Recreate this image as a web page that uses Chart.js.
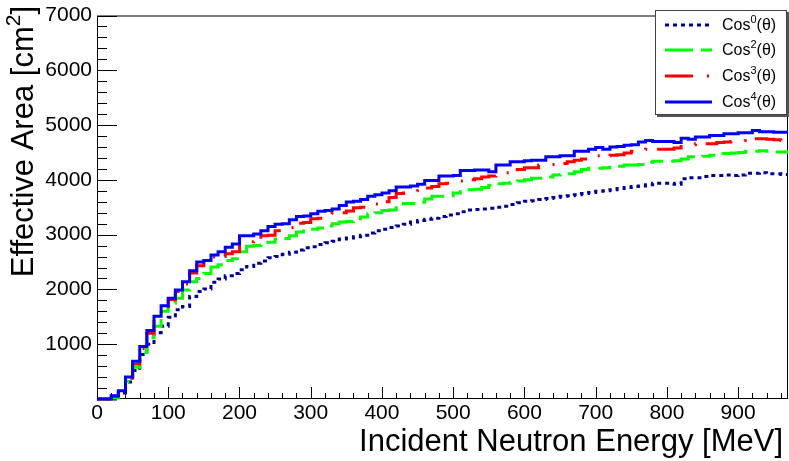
<!DOCTYPE html>
<html>
<head>
<meta charset="utf-8">
<script src="https://cdn.jsdelivr.net/npm/chart.js@4.4.1/dist/chart.umd.min.js"></script>
<style>
  html, body { margin: 0; padding: 0; background: #fff; }
  canvas { display: block; }
</style>
</head>
<body>
<canvas id="effAreaChart" width="789" height="461"></canvas>
<script>
// Effective area vs incident neutron energy, 10 MeV bins, one histogram per angular weighting

const energyEdges = [
    0, 10, 20, 30, 40, 50, 60, 70, 80, 90,
    100, 110, 120, 130, 140, 150, 160, 170, 180, 190,
    200, 210, 220, 230, 240, 250, 260, 270, 280, 290,
    300, 310, 320, 330, 340, 350, 360, 370, 380, 390,
    400, 410, 420, 430, 440, 450, 460, 470, 480, 490,
    500, 510, 520, 530, 540, 550, 560, 570, 580, 590,
    600, 610, 620, 630, 640, 650, 660, 670, 680, 690,
    700, 710, 720, 730, 740, 750, 760, 770, 780, 790,
    800, 810, 820, 830, 840, 850, 860, 870, 880, 890,
    900, 910, 920, 930, 940, 950, 960, 970
];

// bin contents [cm^2]
const cos0 = [
    0, 0, 0, 110, 310, 520, 810, 1000, 1210, 1330,
    1490, 1630, 1690, 1870, 1960, 2010, 2130, 2190, 2250, 2290,
    2360, 2420, 2480, 2520, 2580, 2600, 2640, 2680, 2720, 2760,
    2780, 2820, 2850, 2880, 2920, 2940, 2960, 2990, 3030, 3070,
    3100, 3130, 3160, 3190, 3230, 3260, 3280, 3300, 3330, 3360,
    3380, 3420, 3450, 3460, 3470, 3480, 3500, 3520, 3550, 3580,
    3610, 3620, 3640, 3660, 3680, 3700, 3710, 3730, 3750, 3770,
    3790, 3800, 3820, 3840, 3860, 3880, 3890, 3910, 3940, 3940,
    3940, 3920, 4020, 4040, 4040, 4060, 4080, 4080, 4090, 4080,
    4090, 4120, 4120, 4130, 4110, 4110, 4100
];
const cos2 = [
    0, 0, 20, 100, 320, 580, 850, 1120, 1330, 1600,
    1750, 1840, 1990, 2140, 2200, 2290, 2410, 2450, 2530, 2560,
    2690, 2790, 2800, 2810, 2860, 2920, 2930, 2980, 3050, 3100,
    3100, 3120, 3160, 3200, 3230, 3240, 3290, 3320, 3380, 3400,
    3440, 3450, 3530, 3570, 3570, 3590, 3650, 3700, 3700, 3710,
    3760, 3810, 3820, 3830, 3860, 3900, 3930, 3940, 3950, 3980,
    4000, 4030, 4030, 4050, 4090, 4100, 4110, 4150, 4190, 4210,
    4210, 4220, 4230, 4250, 4270, 4270, 4280, 4320, 4340, 4340,
    4340, 4350, 4380, 4420, 4420, 4430, 4450, 4480, 4480, 4490,
    4500, 4520, 4520, 4530, 4520, 4510, 4510
];
const cos3 = [
    0, 0, 50, 140, 380, 640, 920, 1200, 1450, 1640,
    1810, 1960, 2100, 2300, 2430, 2480, 2590, 2600, 2650, 2690,
    2860, 2870, 2910, 2980, 2990, 3070, 3100, 3130, 3210, 3220,
    3290, 3300, 3330, 3390, 3400, 3430, 3490, 3500, 3520, 3560,
    3600, 3680, 3750, 3760, 3760, 3800, 3850, 3880, 3930, 3940,
    3940, 3980, 4000, 4020, 4050, 4070, 4130, 4130, 4140, 4190,
    4220, 4220, 4270, 4280, 4280, 4300, 4330, 4360, 4380, 4420,
    4440, 4440, 4450, 4460, 4490, 4520, 4540, 4560, 4560, 4560,
    4560, 4580, 4610, 4640, 4660, 4660, 4660, 4680, 4690, 4700,
    4720, 4750, 4750, 4750, 4740, 4730, 4720
];
const cos4 = [
    0, 0, 60, 150, 400, 690, 960, 1250, 1510, 1700,
    1840, 1990, 2140, 2340, 2500, 2530, 2630, 2690, 2770, 2830,
    2980, 2980, 3010, 3070, 3150, 3190, 3200, 3270, 3330, 3340,
    3380, 3425, 3440, 3470, 3530, 3595, 3610, 3640, 3700, 3730,
    3760, 3800, 3870, 3870, 3890, 3920, 3990, 3990, 4070, 4070,
    4080, 4170, 4170, 4180, 4180, 4150, 4270, 4270, 4330, 4330,
    4350, 4360, 4360, 4420, 4420, 4440, 4440, 4520, 4520, 4560,
    4590, 4560, 4600, 4610, 4630, 4640, 4690, 4720, 4700, 4700,
    4700, 4680, 4760, 4740, 4780, 4780, 4810, 4810, 4840, 4840,
    4860, 4860, 4900, 4880, 4880, 4870, 4870
];

const seriesPowers = ['0', '2', '3', '4'];
const xTickValues = [0, 100, 200, 300, 400, 500, 600, 700, 800, 900];
const yTickValues = [1000, 2000, 3000, 4000, 5000, 6000, 7000];

const FONT = '"Liberation Sans", Arial, Helvetica, sans-serif';

const series = [
    { values: cos0, color: '#000099', dash: [4, 4], order: 4 },
    { values: cos2, color: '#00ff00', dash: [28, 8, 14, 8], order: 3 },
    { values: cos3, color: '#ff0000', dash: [28, 14, 2, 10], order: 2 },
    { values: cos4, color: '#0000ff', dash: [], order: 1 }
];

// histogram -> stepped points at the low bin edges, closed at the last edge
function toSteps(values) {
    return energyEdges.map((e, i) => ({ x: e, y: values[Math.min(i, values.length - 1)] }));
}

// draws text pieces [text, size, raise] one after another
function drawRich(ctx, x, y, pieces, align) {
    let total = 0;
    pieces.forEach(p => {
        ctx.font = `${p[1]}px ${FONT}`;
        total += ctx.measureText(p[0]).width;
    });
    let cx = align === 'right' ? x - total : x;
    pieces.forEach(p => {
        ctx.font = `${p[1]}px ${FONT}`;
        ctx.fillText(p[0], cx, y - (p[2] || 0));
        cx += ctx.measureText(p[0]).width;
    });
}

const framePlugin = {
    id: 'rootFrame',
    beforeDatasetsDraw(chart) {
        const { ctx, chartArea: a, scales: { x, y } } = chart;
        ctx.save();
        ctx.strokeStyle = '#000';
        ctx.lineWidth = 1;
        ctx.strokeRect(a.left + 0.5, a.top + 0.5, a.right - a.left - 1, a.bottom - a.top - 1);
        ctx.beginPath();
        for (let v = 0; v <= 7000; v += 200) {
            const py = Math.round(y.getPixelForValue(v)) + 0.5;
            const len = v % 1000 === 0 ? 20 : 10;
            ctx.moveTo(a.left, py);
            ctx.lineTo(a.left + len, py);
        }
        for (let v = 0; v <= 960; v += 20) {
            const px = Math.round(x.getPixelForValue(v)) + 0.5;
            const len = v % 100 === 0 ? 12 : 6;
            ctx.moveTo(px, a.bottom);
            ctx.lineTo(px, a.bottom - len);
        }
        ctx.stroke();
        ctx.restore();
    }
};

const titlePlugin = {
    id: 'axisTitles',
    afterDraw(chart) {
        const ctx = chart.ctx;
        ctx.save();
        ctx.fillStyle = '#000';
        ctx.textBaseline = 'alphabetic';
        ctx.textAlign = 'left';
        drawRich(ctx, 783, 451, [['Incident Neutron Energy [MeV]', 31]], 'right');

        ctx.translate(33, 6);
        ctx.rotate(-Math.PI / 2);
        drawRich(ctx, 0, 0, [['Effective Area [cm', 31], ['2', 21, 13], [']', 31]], 'right');
        ctx.restore();
    }
};

const legendPlugin = {
    id: 'rootLegend',
    afterDraw(chart) {
        const ctx = chart.ctx;
        const box = { l: 655, t: 10, r: 787, b: 115 };
        ctx.save();
        ctx.fillStyle = '#555';
        ctx.fillRect(box.l + 2, box.t + 2, box.r - box.l, box.b - box.t);
        ctx.fillStyle = '#fff';
        ctx.fillRect(box.l, box.t, box.r - box.l, box.b - box.t);
        ctx.strokeStyle = '#444';
        ctx.lineWidth = 1;
        ctx.strokeRect(box.l + 0.5, box.t + 0.5, box.r - box.l - 1, box.b - box.t - 1);

        const rows = [25, 50, 76, 102];
        series.forEach((s, i) => {
            ctx.strokeStyle = s.color;
            ctx.lineWidth = 3;
            ctx.lineCap = 'butt';
            ctx.setLineDash(s.dash);
            ctx.beginPath();
            ctx.moveTo(665, rows[i]);
            ctx.lineTo(712, rows[i]);
            ctx.stroke();
            ctx.setLineDash([]);
            ctx.fillStyle = '#000';
            ctx.textBaseline = 'middle';
            drawRich(ctx, 722, rows[i] + 1, [['Cos', 16], [seriesPowers[i], 11, 6], ['(\u03b8)', 16]], 'left');
        });
        ctx.restore();
    }
};

new Chart(document.getElementById('effAreaChart'), {
    type: 'line',
    data: {
        datasets: series.map((s, i) => ({
            label: 'Cos' + seriesPowers[i] + '(\u03b8)',
            data: toSteps(s.values),
            borderColor: s.color,
            borderWidth: 3,
            borderDash: s.dash,
            borderCapStyle: 'butt',
            borderJoinStyle: 'miter',
            stepped: true,
            pointRadius: 0,
            fill: false,
            order: s.order,
            clip: 4
        }))
    },
    options: {
        responsive: false,
        animation: false,
        devicePixelRatio: 1,
        layout: { padding: { top: 10, right: 1, left: 0, bottom: 0 } },
        plugins: {
            legend: { display: false },
            tooltip: { enabled: false }
        },
        scales: {
            x: {
                type: 'linear',
                min: 0,
                max: 970,
                grid: { display: false, drawTicks: false },
                border: { display: false },
                afterBuildTicks: scale => { scale.ticks = xTickValues.map(v => ({ value: v })); },
                afterFit: scale => { scale.height = 62; },
                ticks: {
                    color: '#000',
                    font: { family: FONT, size: 21, lineHeight: 1 },
                    padding: 4,
                    maxRotation: 0,
                    autoSkip: false,
                    callback: v => String(v)
                }
            },
            y: {
                type: 'linear',
                min: 0,
                max: 7000,
                grid: { display: false, drawTicks: false },
                border: { display: false },
                afterBuildTicks: scale => { scale.ticks = yTickValues.map(v => ({ value: v })); },
                afterFit: scale => { scale.width = 97; },
                ticks: {
                    color: '#000',
                    font: { family: FONT, size: 21, lineHeight: 1 },
                    padding: 5,
                    callback: v => String(v)
                }
            }
        }
    },
    plugins: [framePlugin, titlePlugin, legendPlugin]
});
</script>
</body>
</html>
